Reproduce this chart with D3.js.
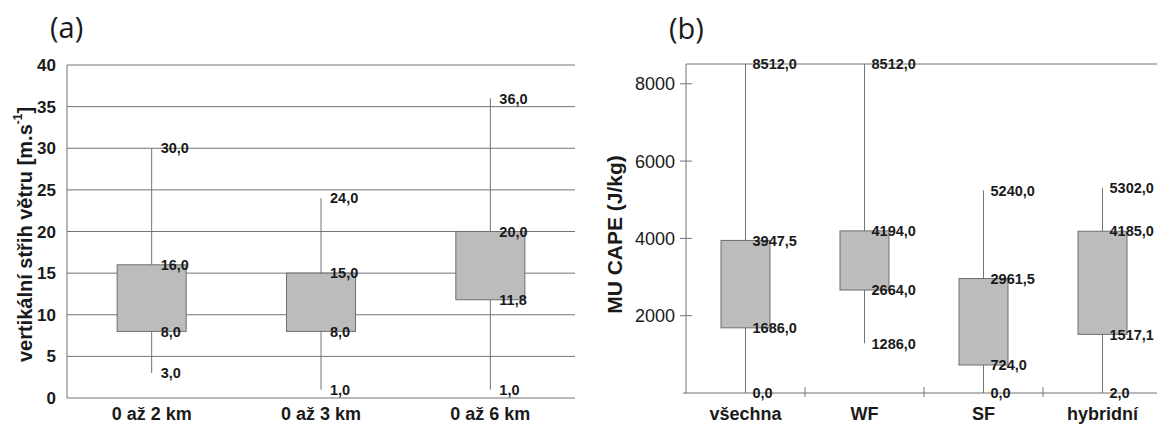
<!DOCTYPE html>
<html>
<head>
<meta charset="utf-8">
<script src="https://cdn.jsdelivr.net/npm/d3@7"></script>
<style>
  html, body { margin: 0; padding: 0; background: #fff; }
  svg { display: block; }
  text { font-family: "Liberation Sans", Arial, sans-serif; fill: #1a1a1a; }
</style>
</head>
<body>
<svg id="chart" width="1157" height="425"></svg>
<script>
// ---- Data: panel (a) ----
const catsA = ["0 až 2 km", "0 až 3 km", "0 až 6 km"];
const maxA = [30.0, 24.0, 36.0];
const q3A  = [16.0, 15.0, 20.0];
const q1A  = [8.0, 8.0, 11.8];
const minA = [3.0, 1.0, 1.0];
const ticksA = [0, 5, 10, 15, 20, 25, 30, 35, 40];

// ---- Data: panel (b) ----
const catsB = ["všechna", "WF", "SF", "hybridní"];
const maxB = [8512.0, 8512.0, 5240.0, 5302.0];
const q3B  = [3947.5, 4194.0, 2961.5, 4185.0];
const q1B  = [1686.0, 2664.0, 724.0, 1517.1];
const minB = [0.0, 1286.0, 0.0, 2.0];
const ticksB = [2000, 4000, 6000, 8000];

const fmt = v => v.toFixed(1).replace(".", ",");
const svg = d3.select("#chart");
const lineCol = "#737373";
const boxFill = "#bcbcbc";
const boxStroke = "#6e6e6e";

function boxes(g, cats, mx, q3, q1, mn, x, y, boxW, labelDx) {
  const data = cats.map((c, i) => ({c, max: mx[i], q3: q3[i], q1: q1[i], min: mn[i]}));
  const cx = d => x(d.c) + x.bandwidth() / 2;
  g.selectAll(".wh").data(data).join("line")
    .attr("x1", cx).attr("x2", cx)
    .attr("y1", d => y(d.min)).attr("y2", d => y(d.max))
    .attr("stroke", lineCol).attr("stroke-width", 1);
  g.selectAll(".bx").data(data).join("rect")
    .attr("x", d => cx(d) - boxW / 2).attr("width", boxW)
    .attr("y", d => y(d.q3)).attr("height", d => y(d.q1) - y(d.q3))
    .attr("fill", boxFill).attr("stroke", boxStroke).attr("stroke-width", 1);
  ["max", "q3", "q1", "min"].forEach(k => {
    g.selectAll(".lb" + k).data(data).join("text")
      .attr("x", d => cx(d) + labelDx)
      .attr("y", d => y(d[k]))
      .attr("dy", "0.36em")
      .attr("font-size", 14.5).attr("font-weight", "bold")
      .text(d => fmt(d[k]));
  });
}

// ================= Panel (a) =================
{
  const L = 67, R = 575, T = 65, B = 398;
  const y = d3.scaleLinear().domain([0, 40]).range([B, T]);
  const x = d3.scaleBand().domain(catsA).range([L, R]).padding(0);
  const g = svg.append("g");

  g.selectAll(".grid").data(ticksA.filter(t => t > 0)).join("line")
    .attr("x1", L).attr("x2", R)
    .attr("y1", d => y(d)).attr("y2", d => y(d))
    .attr("stroke", lineCol).attr("stroke-width", 1);
  g.append("line").attr("x1", L).attr("x2", L).attr("y1", T).attr("y2", B)
    .attr("stroke", lineCol);
  g.append("line").attr("x1", L).attr("x2", R).attr("y1", B).attr("y2", B)
    .attr("stroke", lineCol);
  g.selectAll(".tl").data(ticksA).join("text")
    .attr("x", 56).attr("y", d => y(d)).attr("dy", "0.36em")
    .attr("text-anchor", "end").attr("font-size", 17).attr("font-weight", "bold")
    .text(d => d);
  g.selectAll(".cl").data(catsA).join("text")
    .attr("x", d => x(d) + x.bandwidth() / 2).attr("y", 420)
    .attr("text-anchor", "middle").attr("font-size", 18).attr("font-weight", "bold")
    .text(d => d);

  boxes(g, catsA, maxA, q3A, q1A, minA, x, y, 69, 9);

  const yt = g.append("text")
    .attr("transform", `translate(25,${(T + B) / 2 + 3}) rotate(-90)`)
    .attr("text-anchor", "middle").attr("dominant-baseline", "central")
    .attr("font-size", 20).attr("font-weight", "bold");
  yt.append("tspan").text("vertikální střih větru [m.s");
  yt.append("tspan").attr("baseline-shift", "super").attr("font-size", 12).text("-1");
  yt.append("tspan").text("]");

  svg.append("text").attr("x", 50).attr("y", 38)
    .style("font-family", "'Open Sans', sans-serif").attr("font-size", 29)
    .attr("fill", "#222").text("(a)");
}

// ================= Panel (b) =================
{
  const L = 686, R = 1162, T = 64, B = 393;
  const y = d3.scaleLinear().domain([0, 8512]).range([B, T]);
  const x = d3.scaleBand().domain(catsB).range([L, R]).padding(0);
  const g = svg.append("g");

  g.append("line").attr("x1", L).attr("x2", L).attr("y1", T).attr("y2", B).attr("stroke", lineCol);
  g.append("line").attr("x1", L).attr("x2", R).attr("y1", T).attr("y2", T).attr("stroke", lineCol);
  g.append("line").attr("x1", L - 3).attr("x2", R).attr("y1", B).attr("y2", B).attr("stroke", lineCol);

  g.selectAll(".yt").data(ticksB).join("line")
    .attr("x1", L - 6).attr("x2", L + 6)
    .attr("y1", d => y(d)).attr("y2", d => y(d)).attr("stroke", lineCol);
  g.selectAll(".ytl").data(ticksB).join("text")
    .attr("x", L - 11).attr("y", d => y(d)).attr("dy", "0.36em")
    .attr("text-anchor", "end").attr("font-size", 18)
    .text(d => d);
  g.selectAll(".xt").data(catsB.slice(1)).join("line")
    .attr("x1", d => x(d)).attr("x2", d => x(d))
    .attr("y1", B - 6).attr("y2", B + 4).attr("stroke", lineCol);
  g.selectAll(".cl").data(catsB).join("text")
    .attr("x", d => x(d) + x.bandwidth() / 2).attr("y", 420)
    .attr("text-anchor", "middle").attr("font-size", 18).attr("font-weight", "bold")
    .text(d => d);

  boxes(g, catsB, maxB, q3B, q1B, minB, x, y, 49, 7);

  g.append("text")
    .attr("transform", `translate(614,${(T + B) / 2 + 6}) rotate(-90)`)
    .attr("text-anchor", "middle").attr("dominant-baseline", "central")
    .attr("font-size", 21).attr("font-weight", "bold")
    .text("MU CAPE (J/kg)");

  svg.append("text").attr("x", 669).attr("y", 39)
    .style("font-family", "'Open Sans', sans-serif").attr("font-size", 29)
    .attr("fill", "#222").text("(b)");
}
</script>
</body>
</html>
